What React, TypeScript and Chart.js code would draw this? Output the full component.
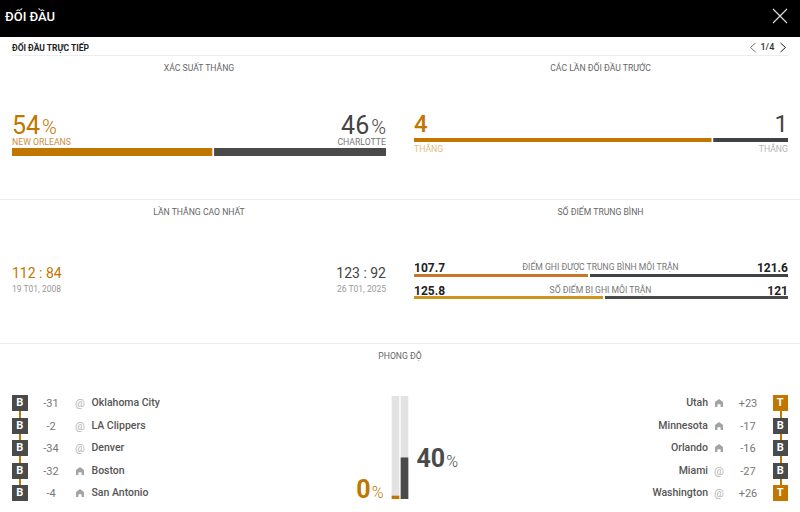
import { useEffect, useRef } from "react";
import { Chart, registerables } from "chart.js";
import type { CSSProperties, ReactNode } from "react";

Chart.register(...registerables);

const ORANGE = "#c17600";
const DARK = "#4a4a4a";

const winChance = [54, 46];
const pastMeetings = [4, 1];
const avgScored = [107.7, 121.6];
const avgConceded = [125.8, 121];
const formTrack = [100, 100];
const formWinRate = [0, 40];

const homeTeams = ["Oklahoma City", "LA Clippers", "Denver", "Boston", "San Antonio"];
const homeDiffs = ["-31", "-2", "-34", "-32", "-4"];
const homeResults = ["B", "B", "B", "B", "B"];
const homeVenues = ["@", "@", "@", "h", "h"];

const awayTeams = ["Utah", "Minnesota", "Orlando", "Miami", "Washington"];
const awayDiffs = ["+23", "-17", "-16", "-27", "+26"];
const awayResults = ["T", "B", "B", "B", "T"];
const awayVenues = ["h", "h", "h", "@", "@"];

const SplitBar = ({
  values,
  colors,
  left,
  top,
  width,
  height,
  radius = 0,
}: {
  values: number[];
  colors: string[];
  left: number;
  top: number;
  width: number;
  height: number;
  radius?: number;
}) => {
  const canvasRef = useRef<HTMLCanvasElement>(null);

  useEffect(() => {
    if (!canvasRef.current) return;
    const chart = new Chart(canvasRef.current, {
      type: "bar",
      data: {
        labels: [""],
        datasets: values.map((v, i) => ({
          data: [v],
          backgroundColor: colors[i],
          borderColor: "#fff",
          borderWidth: i === 0 ? { right: 2 } : 0,
          borderSkipped: false,
          borderRadius: i === 0 ? 0 : radius,
          barPercentage: 1,
          categoryPercentage: 1,
        })),
      },
      options: {
        indexAxis: "y",
        responsive: false,
        animation: false,
        plugins: { legend: { display: false }, tooltip: { enabled: false } },
        scales: {
          x: { display: false, stacked: true, min: 0, max: values[0] + values[1] },
          y: { display: false, stacked: true },
        },
      },
    });
    return () => chart.destroy();
  }, [values, colors, radius]);

  return (
    <canvas
      ref={canvasRef}
      width={width}
      height={height}
      style={{ position: "absolute", left, top, width, height }}
    />
  );
};

const FormBars = () => {
  const canvasRef = useRef<HTMLCanvasElement>(null);

  useEffect(() => {
    if (!canvasRef.current) return;
    const chart = new Chart(canvasRef.current, {
      type: "bar",
      data: {
        labels: ["New Orleans", "Charlotte"],
        datasets: [
          {
            data: formWinRate,
            backgroundColor: [ORANGE, DARK],
            barThickness: 7,
            minBarLength: 3,
            grouped: false,
            order: 1,
          },
          {
            data: formTrack,
            backgroundColor: "#e2e2e2",
            barThickness: 7,
            grouped: false,
            order: 2,
          },
        ],
      },
      options: {
        responsive: false,
        animation: false,
        plugins: { legend: { display: false }, tooltip: { enabled: false } },
        scales: {
          x: { display: false },
          y: { display: false, min: 0, max: 100 },
        },
      },
    });
    return () => chart.destroy();
  }, []);

  return (
    <canvas
      ref={canvasRef}
      width={18}
      height={103}
      style={{ position: "absolute", left: 391, top: 396, width: 18, height: 103 }}
    />
  );
};

const Txt = ({
  x,
  right,
  center,
  y,
  size,
  color = "#444",
  weight = 400,
  children,
}: {
  x?: number;
  right?: number;
  center?: number;
  y: number;
  size: number;
  color?: string;
  weight?: number;
  children: ReactNode;
}) => {
  const style: CSSProperties = {
    position: "absolute",
    top: y - size / 2,
    height: size,
    lineHeight: `${size}px`,
    fontSize: size,
    fontWeight: weight,
    color,
    whiteSpace: "nowrap",
  };
  if (x !== undefined) style.left = x;
  if (right !== undefined) style.right = 800 - right;
  if (center !== undefined) {
    style.left = center - 100;
    style.width = 200;
    style.textAlign = "center";
  }
  return <div style={style}>{children}</div>;
};

const Rule = ({ top, left = 0, width = 800 }: { top: number; left?: number; width?: number }) => (
  <div style={{ position: "absolute", top, left, width, height: 1, background: "#ededed" }} />
);

const HomeIcon = ({ x, y }: { x: number; y: number }) => (
  <svg width={8} height={8} viewBox="0 0 10 10" style={{ position: "absolute", left: x, top: y - 4 }}>
    <path d="M0 3.8 L5 0 L10 3.8 V10 H7 V6.5 H3 V10 H0 Z" fill="#a3a3a3" />
  </svg>
);

const FormList = ({
  side,
  teams,
  diffs,
  results,
  venues,
}: {
  side: "left" | "right";
  teams: string[];
  diffs: string[];
  results: string[];
  venues: string[];
}) => {
  const isLeft = side === "left";
  const badgeX = isLeft ? 12 : 772.5;
  return (
    <>
      {teams.map((team, i) => {
        const y = 403 + i * 22.5;
        // text sits on whole pixels, half rows round up like the reference
        const textY = Math.ceil(y) + 0.25;
        return (
          <div key={team}>
            {i < teams.length - 1 && (
              <div
                style={{
                  position: "absolute",
                  left: badgeX + 7,
                  top: y + 7.5,
                  width: 2,
                  height: 7.5,
                  background: ORANGE,
                }}
              />
            )}
            <div
              style={{
                position: "absolute",
                left: badgeX,
                top: y - 8,
                width: 15.5,
                height: 16,
                lineHeight: "16px",
                textAlign: "center",
                fontSize: 11,
                fontWeight: 700,
                color: "#fff",
                background: results[i] === "T" ? ORANGE : DARK,
              }}
            >
              {results[i]}
            </div>
            <Txt center={isLeft ? 51 : 748} y={textY} size={11} color="#777">
              {diffs[i]}
            </Txt>
            {venues[i] === "@" ? (
              <Txt center={isLeft ? 80 : 719} y={textY} size={11} color="#b5b5b5">
                @
              </Txt>
            ) : (
              <HomeIcon x={isLeft ? 76 : 715} y={textY} />
            )}
            {isLeft ? (
              <Txt x={91.5} y={textY} size={10.5} color="#555" weight={500}>
                {team}
              </Txt>
            ) : (
              <Txt right={708} y={textY} size={10.5} color="#555" weight={500}>
                {team}
              </Txt>
            )}
          </div>
        );
      })}
    </>
  );
};

const Pct = ({ value, size, pct, gap = 2 }: { value: number; size: number; pct: number; gap?: number }) => (
  <>
    <span style={{ fontSize: size }}>{value}</span>
    <span style={{ fontSize: pct, fontWeight: 300, marginLeft: gap }}>%</span>
  </>
);

export default function App() {
  return (
    <div
      style={{
        position: "absolute",
        left: 0,
        top: 0,
        width: 800,
        height: 512,
        overflow: "hidden",
        background: "#fff",
        fontFamily: "Roboto, sans-serif",
      }}
    >
      <div style={{ position: "absolute", left: 0, top: 0, width: 800, height: 37, background: "#000" }} />
      <Txt x={5} y={16} size={13} color="#fff" weight={500}>
        ĐỐI ĐẦU
      </Txt>
      <svg width={16} height={16} style={{ position: "absolute", left: 772, top: 8 }}>
        <path d="M1 1 L15 15 M15 1 L1 15" stroke="#ddd" strokeWidth={1.2} />
      </svg>

      <Txt x={12} y={48} size={8.5} color="#222" weight={700}>
        ĐỐI ĐẦU TRỰC TIẾP
      </Txt>
      <svg width={8} height={11} style={{ position: "absolute", left: 748.5, top: 42 }}>
        <path d="M6.5 1 L1.5 5.5 L6.5 10" stroke="#777" fill="none" />
      </svg>
      <Txt x={760.5} y={47.5} size={9} color="#333" weight={500}>
        1/4
      </Txt>
      <svg width={8} height={11} style={{ position: "absolute", left: 779, top: 42 }}>
        <path d="M1.5 1 L6.5 5.5 L1.5 10" stroke="#222" fill="none" />
      </svg>
      <Rule top={55} left={12} width={776} />
      <Rule top={199} />
      <Rule top={343} />

      <Txt center={199} y={68} size={8.65} color="#666">XÁC SUẤT THẮNG</Txt>
      <Txt center={600.5} y={68} size={8.65} color="#666">CÁC LẦN ĐỐI ĐẦU TRƯỚC</Txt>
      <Txt center={199} y={212} size={8.65} color="#666">LẦN THẮNG CAO NHẤT</Txt>
      <Txt center={600.5} y={212} size={8.65} color="#666">SỐ ĐIỂM TRUNG BÌNH</Txt>
      <Txt center={400} y={356} size={8.65} color="#666">PHONG ĐỘ</Txt>

      <Txt x={12} y={125.5} size={24} color={ORANGE}>
        <Pct value={winChance[0]} size={25} pct={20} />
      </Txt>
      <Txt right={386} y={125.5} size={24} color="#444">
        <Pct value={winChance[1]} size={25} pct={20} />
      </Txt>
      <Txt x={12} y={142} size={8.7} color="#c98f3a">NEW ORLEANS</Txt>
      <Txt right={386} y={142} size={8.7} color="#777">CHARLOTTE</Txt>
      <SplitBar values={winChance} colors={[ORANGE, DARK]} left={12} top={148} width={374} height={8} radius={2} />

      <Txt x={414} y={124} size={24} color={ORANGE} weight={500}>{pastMeetings[0]}</Txt>
      <Txt right={788} y={124} size={24} color="#444">{pastMeetings[1]}</Txt>
      <SplitBar values={pastMeetings} colors={[ORANGE, "#3f4247"]} left={414} top={138} width={374} height={4} />
      <Txt x={414} y={149.5} size={8.7} color="#e0bd87">THẮNG</Txt>
      <Txt right={788} y={149.5} size={8.7} color="#b5b5b5">THẮNG</Txt>

      <Txt x={12} y={273} size={14} color={ORANGE}>112 : 84</Txt>
      <Txt right={386} y={273} size={14} color="#444">123 : 92</Txt>
      <Txt x={12} y={289.5} size={8.5} color="#999">19 T01, 2008</Txt>
      <Txt right={386} y={289.5} size={8.5} color="#999">26 T01, 2025</Txt>

      <Txt x={414} y={268} size={12} color="#222" weight={700}>{avgScored[0]}</Txt>
      <Txt right={788} y={268} size={12} color="#222" weight={700}>{avgScored[1]}</Txt>
      <Txt center={600.5} y={267.5} size={8.6} color="#777">ĐIỂM GHI ĐƯỢC TRUNG BÌNH MỖI TRẬN</Txt>
      <SplitBar values={avgScored} colors={["#c9762a", "#3f4247"]} left={414} top={274} width={374} height={3} />

      <Txt x={414} y={290.5} size={12} color="#222" weight={700}>{avgConceded[0]}</Txt>
      <Txt right={788} y={290.5} size={12} color="#222" weight={700}>{avgConceded[1]}</Txt>
      <Txt center={600.5} y={290} size={8.6} color="#777">SỐ ĐIỂM BỊ GHI MỖI TRẬN</Txt>
      <SplitBar values={avgConceded} colors={["#cf9420", DARK]} left={414} top={296} width={374} height={3} />

      <FormList side="left" teams={homeTeams} diffs={homeDiffs} results={homeResults} venues={homeVenues} />
      <FormList side="right" teams={awayTeams} diffs={awayDiffs} results={awayResults} venues={awayVenues} />

      <FormBars />
      <Txt right={383.5} y={489} size={25} color={ORANGE} weight={700}>
        <Pct value={formWinRate[0]} size={25} pct={16} gap={1} />
      </Txt>
      <Txt x={416.5} y={458} size={25} color="#4a4a4a" weight={700}>
        <Pct value={formWinRate[1]} size={25} pct={16} gap={1} />
      </Txt>
    </div>
  );
}
